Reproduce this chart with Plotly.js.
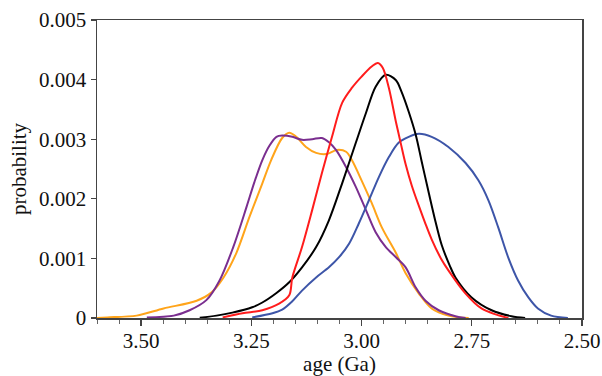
<!DOCTYPE html>
<html>
<head>
<meta charset="utf-8">
<script src="https://cdn.plot.ly/plotly-3.0.1.min.js"></script>
<style>html,body{margin:0;padding:0;background:#fff;}#chart{width:602px;height:376px;}</style>
</head>
<body>
<div id="chart"></div>
<script>
// Orange series
const orangeAge = [3.60, 3.577, 3.51, 3.449, 3.374, 3.34, 3.313, 3.284, 3.254, 3.225, 3.205, 3.18, 3.164, 3.148, 3.126, 3.103, 3.08, 3.056, 3.035, 3.022, 3.0, 2.977, 2.954, 2.922, 2.90, 2.87, 2.841, 2.803, 2.757];
const orangeProb = [0, 0.00001, 0.00004, 0.00016, 0.00029, 0.00043, 0.00068, 0.00109, 0.00170, 0.00226, 0.00265, 0.00302, 0.00311, 0.00304, 0.00287, 0.00277, 0.00275, 0.00282, 0.00279, 0.00265, 0.00231, 0.00193, 0.00152, 0.00109, 0.00075, 0.00041, 0.00016, 0.00004, 0];
// Purple series
const purpleAge = [3.487, 3.426, 3.39, 3.352, 3.322, 3.291, 3.261, 3.243, 3.225, 3.209, 3.193, 3.18, 3.157, 3.135, 3.112, 3.09, 3.074, 3.058, 3.035, 3.013, 2.99, 2.968, 2.945, 2.922, 2.90, 2.877, 2.855, 2.825, 2.787, 2.764];
const purpleProb = [0.00001, 0.00004, 0.00013, 0.0003, 0.00063, 0.00119, 0.00186, 0.00228, 0.00265, 0.00289, 0.00304, 0.00306, 0.00304, 0.00299, 0.003, 0.00302, 0.00295, 0.00282, 0.00253, 0.0022, 0.00181, 0.00144, 0.00119, 0.00102, 0.00085, 0.00051, 0.00029, 0.00013, 0.00003, 0];
// Black series
const blackAge = [3.367, 3.329, 3.293, 3.248, 3.225, 3.193, 3.164, 3.135, 3.103, 3.074, 3.044, 3.013, 2.99, 2.968, 2.945, 2.922, 2.909, 2.893, 2.877, 2.864, 2.85, 2.835, 2.818, 2.80, 2.787, 2.751, 2.705, 2.66, 2.629];
const blackProb = [0.000004, 0.00004, 0.00009, 0.00018, 0.00026, 0.00042, 0.0006, 0.00085, 0.00119, 0.00164, 0.00226, 0.00294, 0.00344, 0.00388, 0.00408, 0.00399, 0.00379, 0.00346, 0.00307, 0.00264, 0.00218, 0.0017, 0.00122, 0.00088, 0.00068, 0.00035, 0.00013, 0.00003, 0];
// Red series
const redAge = [3.315, 3.27, 3.225, 3.187, 3.164, 3.157, 3.135, 3.112, 3.09, 3.067, 3.044, 3.022, 3.0, 2.977, 2.963, 2.952, 2.938, 2.922, 2.911, 2.90, 2.886, 2.87, 2.855, 2.841, 2.82, 2.803, 2.764, 2.728, 2.696, 2.667];
const redProb = [0.00001, 0.00008, 0.00013, 0.00024, 0.00038, 0.00068, 0.00119, 0.00181, 0.00243, 0.00304, 0.00361, 0.00386, 0.00405, 0.00422, 0.00428, 0.0042, 0.00386, 0.00329, 0.00293, 0.00258, 0.00222, 0.00188, 0.00158, 0.00132, 0.001, 0.0008, 0.00041, 0.00016, 0.00006, 0];
// Blue series
const blueAge = [3.248, 3.202, 3.18, 3.157, 3.135, 3.103, 3.074, 3.051, 3.028, 3.006, 2.983, 2.961, 2.938, 2.916, 2.893, 2.87, 2.841, 2.803, 2.764, 2.735, 2.712, 2.69, 2.667, 2.645, 2.622, 2.60, 2.57, 2.532];
const blueProb = [0.00001, 0.00008, 0.00014, 0.00028, 0.00046, 0.00068, 0.00085, 0.00102, 0.00125, 0.00159, 0.00198, 0.00236, 0.0027, 0.00294, 0.00304, 0.00309, 0.00304, 0.00287, 0.0026, 0.00231, 0.00197, 0.00152, 0.00101, 0.00063, 0.00035, 0.00016, 0.00004, 0];

const xTickVals = [3.50, 3.25, 3.00, 2.75, 2.50];
const xTickText = ["3.50", "3.25", "3.00", "2.75", "2.50"];
const yTickVals = [0, 0.001, 0.002, 0.003, 0.004, 0.005];
const yTickText = ["0", "0.001", "0.002", "0.003", "0.004", "0.005"];

function tr(x, y, color) {
  return {x: x, y: y, type: 'scatter', mode: 'lines',
    line: {color: color, width: 2, shape: 'spline', smoothing: 0.9},
    hoverinfo: 'skip', showlegend: false};
}
const data = [
  tr(orangeAge, orangeProb, '#FFA41A'),
  tr(purpleAge, purpleProb, '#7A2E8F'),
  tr(blueAge, blueProb, '#3D55A8'),
  tr(blackAge, blackProb, '#000000'),
  tr(redAge, redProb, '#FF1C1C')
];
const fam = '"Liberation Serif", "Times New Roman", serif';
const layout = {
  width: 602, height: 376,
  margin: {l: 97, r: 20, t: 20, b: 58},
  paper_bgcolor: '#fff', plot_bgcolor: '#fff',
  font: {family: fam, size: 21, color: '#111'},
  showlegend: false,
  xaxis: {
    range: [3.6, 2.5], autorange: false,
    tickvals: xTickVals, ticktext: xTickText,
    ticks: 'outside', ticklen: 6, tickwidth: 1.2, tickcolor: '#444',
    ticklabelstandoff: -3,
    minor: {dtick: 0.05, tick0: 3.5, ticks: 'outside', ticklen: 4, tickwidth: 1, tickcolor: '#666', showgrid: false},
    showline: true, linecolor: '#444', linewidth: 1.5, mirror: true,
    showgrid: false, zeroline: false,
    tickfont: {family: fam, size: 21, color: '#111'},
    title: {text: 'age (Ga)', font: {family: fam, size: 21, color: '#111'}, standoff: 8}
  },
  yaxis: {
    range: [0, 0.005], autorange: false,
    tickvals: yTickVals, ticktext: yTickText,
    ticks: 'outside', ticklen: 5, tickwidth: 1.2, tickcolor: '#444',
    showline: true, linecolor: '#444', linewidth: 1.5, mirror: true,
    showgrid: false, zeroline: false,
    tickfont: {family: fam, size: 21, color: '#111'},
    title: {text: 'probability', font: {family: fam, size: 21, color: '#111'}, standoff: 6}
  }
};
Plotly.newPlot('chart', data, layout, {staticPlot: true, displayModeBar: false});
</script>
</body>
</html>
